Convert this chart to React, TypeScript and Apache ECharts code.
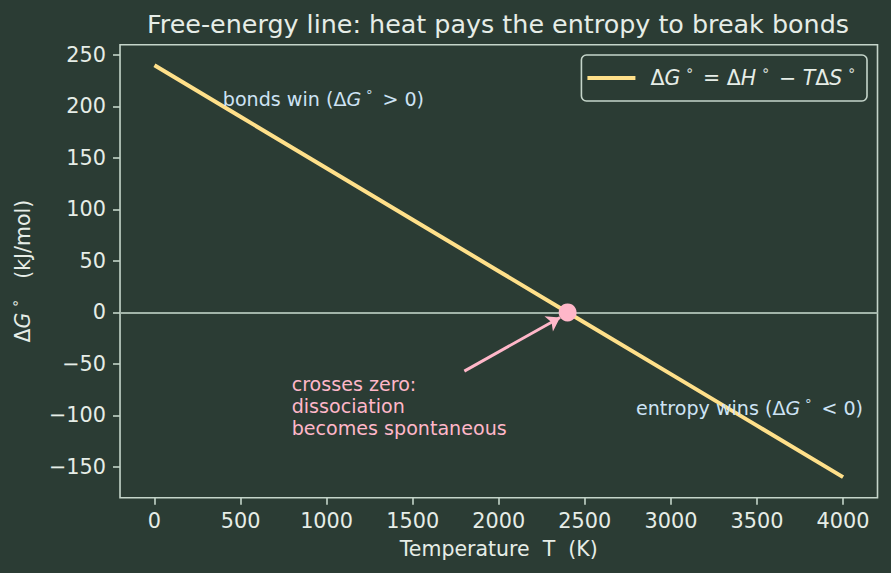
import React, { useEffect, useRef } from "react";
import * as echarts from "echarts";

// ΔG° along temperature (kJ/mol vs K)
const temperatureK = [0, 500, 1000, 1500, 2000, 2500, 3000, 3500, 4000];
const deltaG = [240, 190, 140, 90, 40, -10, -60, -110, -160];
const zeroCrossing = [2400, 0];

const xTickValues = [0, 500, 1000, 1500, 2000, 2500, 3000, 3500, 4000];
const yTickValues = [-150, -100, -50, 0, 50, 100, 150, 200, 250];
const xLimits = [-200, 4200];
const yLimits = [-180, 260];

// annotation anchors in data coordinates
const arrowFrom = [1800, -57];
const arrowTo = [2356, -5];
const bondsNoteAt = [400, 200];
const entropyNoteAt = [2800, -100];
const crossNoteAt = [800, -120];

const TITLE = "Free-energy line: heat pays the entropy to break bonds";
const LINE_NAME = "ΔG° = ΔH° − TΔS°";

const BG = "#2b3c34";
const FG = "#e6ede7";
const SPINE = "#c5d5ca";
const LINE = "#ffe08a";
const PINK = "#ffb7c9";
const BLUE = "#cde3f4";
const ZERO = "#a2b4a9";
const FONT = "DejaVu Sans";

const TICK_SIZE = 20.8;
const NAME_SIZE = 20.5;
const NOTE_SIZE = 19.1;
const LEGEND_SIZE = 20.5;

const fmtNum = (v: number) => (v < 0 ? "\u2212" + Math.abs(v) : String(v));

function mathStyles(color: string, size: number, lineHeight: number) {
  const base = { color, fontSize: size, fontFamily: FONT, lineHeight };
  const supSize = Math.round(size * 0.7);
  const lift = Math.round(size * 0.8);
  const lead = Math.round(size * 0.22);
  return {
    r: base,
    i: { ...base, fontStyle: "italic" },
    c: { ...base, fontSize: supSize, padding: [0, Math.round(size * 0.45), lift, lead] },
    ce: { ...base, fontSize: supSize, padding: [0, 1, lift, lead] },
    cy: { ...base, fontSize: supSize, padding: [0, 20, lift, lead] },
    lead: { ...base, padding: [0, 0, 0, 10] },
  };
}

export default function App() {
  const ref = useRef<HTMLDivElement>(null);

  useEffect(() => {
    if (!ref.current) return;
    const chart = echarts.init(ref.current, null, { renderer: "svg" });

    const linePoints = temperatureK.map((t, i) => [t, deltaG[i]]);

    const noteLabel = (color: string, formatter: string, vAlign: string, dy: number) => ({
      show: true,
      position: [0, 0],
      align: "left",
      verticalAlign: vAlign,
      offset: [0, dy],
      formatter,
      color,
      opacity: 1,
      fontFamily: FONT,
      fontSize: NOTE_SIZE,
      lineHeight: 22,
      rich: mathStyles(color, NOTE_SIZE, 22),
    });

    const option: any = {
      animation: false,
      backgroundColor: BG,
      textStyle: { fontFamily: FONT },
      graphic: [
        {
          type: "text",
          x: 498,
          y: 23.5,
          silent: true,
          style: {
            text: TITLE,
            fill: FG,
            fontSize: 25.4,
            fontFamily: FONT,
            align: "center",
            verticalAlign: "middle",
          },
        },
      ],
      grid: {
        left: 118,
        right: 13.5,
        top: 44.7,
        bottom: 75.3,
        show: true,
        borderColor: SPINE,
        borderWidth: 1.6,
        backgroundColor: "transparent",
      },
      legend: {
        data: [LINE_NAME],
        right: 24,
        top: 55,
        icon: "rect",
        itemWidth: 48,
        itemHeight: 4,
        padding: [8, 10, 8, 6],
        borderColor: SPINE,
        borderWidth: 1.6,
        borderRadius: 5,
        backgroundColor: BG,
        selectedMode: false,
        formatter: () =>
          "{lead|Δ}{i|G}{c|∘}{r|= Δ}{i|H}{c|∘}{r|− }{i|T}{r|Δ}{i|S}{ce|∘}",
        textStyle: {
          color: FG,
          fontSize: LEGEND_SIZE,
          fontFamily: FONT,
          rich: mathStyles(FG, LEGEND_SIZE, 22),
        },
      },
      xAxis: {
        type: "value",
        min: xLimits[0],
        max: xLimits[1],
        splitLine: { show: false },
        axisLine: { show: false, onZero: false },
        axisTick: {
          show: true,
          length: 7,
          customValues: xTickValues,
          lineStyle: { color: SPINE, width: 1.6 },
        },
        axisLabel: {
          customValues: xTickValues,
          color: FG,
          fontSize: TICK_SIZE,
          fontFamily: FONT,
          margin: 12.5,
          formatter: (v: number) => fmtNum(v),
        },
        name: "{r|Temperature  }{r|T  }{r|(K)}",
        nameLocation: "middle",
        nameGap: 40,
        nameTextStyle: {
          color: FG,
          fontSize: NAME_SIZE,
          fontFamily: FONT,
          rich: mathStyles(FG, NAME_SIZE, 22),
        },
      },
      yAxis: {
        type: "value",
        min: yLimits[0],
        max: yLimits[1],
        splitLine: { show: false },
        axisLine: { show: false, onZero: false },
        axisTick: {
          show: true,
          length: 7,
          customValues: yTickValues,
          lineStyle: { color: SPINE, width: 1.6 },
        },
        axisLabel: {
          customValues: yTickValues,
          color: FG,
          fontSize: TICK_SIZE,
          fontFamily: FONT,
          margin: 14,
          formatter: (v: number) => fmtNum(v),
        },
        name: "{r|Δ}{i|G}{cy|∘}{r|(kJ/mol)}",
        nameLocation: "middle",
        nameGap: 82,
        nameTextStyle: {
          color: FG,
          fontSize: NAME_SIZE,
          fontFamily: FONT,
          rich: mathStyles(FG, NAME_SIZE, 22),
        },
      },
      series: [
        {
          // ΔG° = 0 reference line
          type: "line",
          name: "zero",
          data: [],
          z: 1,
          silent: true,
          markLine: {
            silent: true,
            symbol: "none",
            label: { show: false },
            lineStyle: { color: ZERO, width: 2, type: "solid" },
            data: [{ yAxis: 0 }],
          },
        },
        {
          type: "line",
          name: LINE_NAME,
          data: linePoints,
          showSymbol: false,
          symbol: "none",
          silent: true,
          z: 2,
          lineStyle: { color: LINE, width: 4 },
          itemStyle: { color: LINE },
        },
        {
          type: "scatter",
          name: "notes",
          silent: true,
          z: 3,
          symbolSize: 1,
          itemStyle: { color: "rgba(0,0,0,0)", opacity: 1 },
          data: [
            {
              value: bondsNoteAt,
              label: noteLabel(BLUE, "{r|bonds win (Δ}{i|G}{c|∘}{r|> 0)}", "middle", -6.6),
            },
            {
              value: entropyNoteAt,
              label: noteLabel(BLUE, "{r|entropy wins (Δ}{i|G}{c|∘}{r|< 0)}", "middle", -6.6),
            },
            {
              value: crossNoteAt,
              label: noteLabel(
                PINK,
                "crosses zero:\ndissociation\nbecomes spontaneous",
                "bottom",
                4.4
              ),
            },
          ],
        },
        {
          // arrow pointing at the crossing
          type: "line",
          name: "arrow",
          data: [],
          z: 4,
          silent: true,
          markLine: {
            silent: true,
            symbol: ["none", "arrow"],
            symbolSize: 13,
            label: { show: false },
            itemStyle: { color: PINK },
            lineStyle: { color: PINK, width: 3, type: "solid", opacity: 1 },
            data: [[{ coord: arrowFrom }, { coord: arrowTo }]],
          },
        },
        {
          type: "scatter",
          name: "crossing",
          silent: true,
          z: 5,
          symbolSize: 18,
          itemStyle: { color: PINK, opacity: 1 },
          data: [zeroCrossing],
        },
      ],
    };

    chart.setOption(option);
    return () => chart.dispose();
  }, []);

  return (
    <div
      ref={ref}
      style={{ position: "fixed", left: 0, top: 0, width: 891, height: 573 }}
    />
  );
}
